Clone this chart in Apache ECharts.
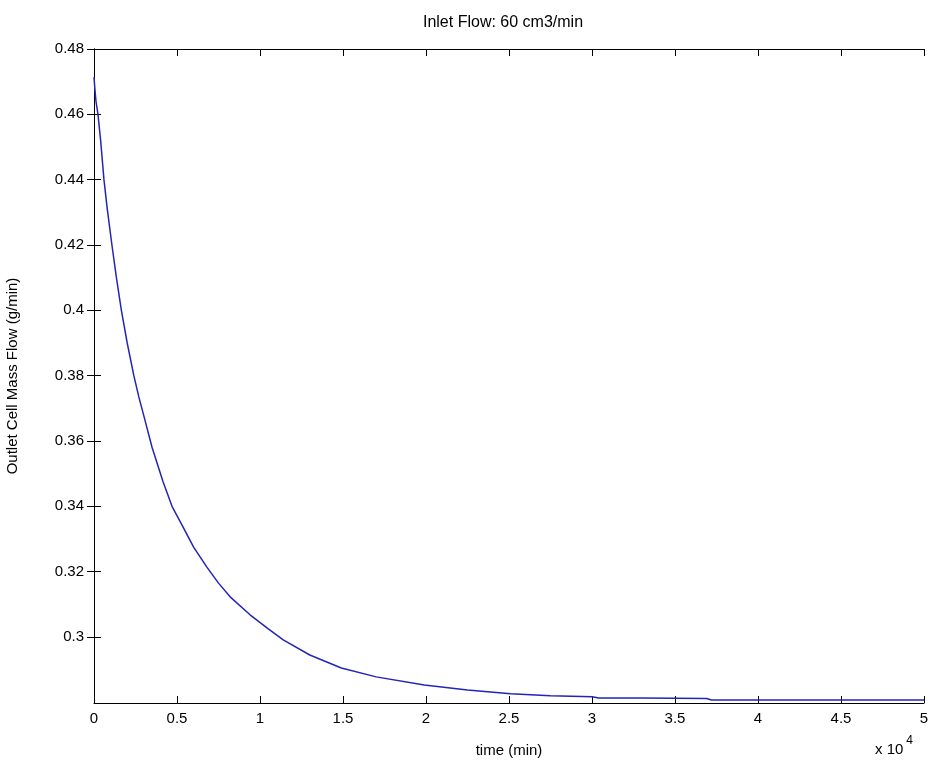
<!DOCTYPE html>
<html>
<head>
<meta charset="utf-8">
<script src="https://cdn.jsdelivr.net/npm/echarts@6/dist/echarts.min.js"></script>
<style>html,body{margin:0;padding:0;background:#fff;}#c{width:928px;height:760px;}</style>
</head>
<body>
<div id="c"></div>
<script>
// time in units of 10^4 min
const timeVals = [0, 0.005, 0.012, 0.024, 0.04, 0.06, 0.08, 0.108, 0.135, 0.165, 0.2, 0.24, 0.27, 0.307, 0.35, 0.416, 0.47, 0.536, 0.6, 0.68, 0.75, 0.82, 0.94, 1.05, 1.14, 1.3, 1.49, 1.7, 1.99, 2.25, 2.51, 2.75, 3.0, 3.04, 3.3, 3.69, 3.72, 4.2, 4.6, 5.0];
const flowVals = [0.4714, 0.468, 0.464, 0.46, 0.452, 0.44, 0.431, 0.42, 0.41, 0.40, 0.39, 0.38, 0.3735, 0.3664, 0.358, 0.3475, 0.340, 0.3337, 0.3275, 0.3214, 0.3165, 0.3123, 0.3068, 0.3025, 0.2991, 0.2945, 0.2905, 0.2878, 0.2853, 0.2838, 0.2826, 0.2820, 0.2817, 0.2813, 0.2813, 0.2812, 0.2807, 0.2807, 0.2807, 0.2807];
const yTicks = [0.30, 0.32, 0.34, 0.36, 0.38, 0.40, 0.42, 0.44, 0.46, 0.48];
const xTickInterval = 0.5;
const titleText = 'Inlet Flow: 60 cm3/min';
const xName = 'time (min)';
const yName = 'Outlet Cell Mass Flow (g/min)';

const chart = echarts.init(document.getElementById('c'), null, {renderer: 'canvas'});
const font = 'Liberation Sans';
const axisLine = {show: true, lineStyle: {color: '#000', width: 1}};
const tick = {show: true, inside: true, length: 7, lineStyle: {color: '#000', width: 1}};
const data = timeVals.map((t, i) => [t, flowVals[i]]);

chart.setOption({
  animation: false,
  backgroundColor: '#fff',
  grid: {left: 94, right: 4, top: 49, bottom: 57, containLabel: false, outerBoundsMode: 'none'},
  graphic: [
    {type: 'text', x: 503, y: 23, style: {text: titleText, font: '16px "Liberation Sans"', fill: '#000', align: 'center', verticalAlign: 'middle'}},
    {type: 'text', x: 875, y: 735, style: {
      text: '{a|x 10}{b|4}',
      rich: {
        a: {fontFamily: font, fontSize: 15, fill: '#000', verticalAlign: 'bottom'},
        b: {fontFamily: font, fontSize: 12, fill: '#000', verticalAlign: 'top', padding: [0, 0, 10, 3]}
      }
    }}
  ],
  xAxis: [
    {type: 'value', position: 'bottom', min: 0, max: 5, interval: xTickInterval,
     axisLine: axisLine, axisTick: tick, splitLine: {show: false},
     axisLabel: {color: '#000', fontFamily: font, fontSize: 15, margin: 8},
     name: xName, nameLocation: 'middle', nameGap: 40,
     nameTextStyle: {color: '#000', fontFamily: font, fontSize: 15}},
    {type: 'value', position: 'top', min: 0, max: 5, interval: xTickInterval,
     axisLine: axisLine, axisTick: tick, splitLine: {show: false}, axisLabel: {show: false}}
  ],
  yAxis: [
    {type: 'value', position: 'left', min: 0.2798, max: 0.48,
     axisLine: axisLine,
     axisTick: Object.assign({customValues: yTicks}, tick),
     splitLine: {show: false},
     axisLabel: {customValues: yTicks, color: '#000', fontFamily: font, fontSize: 15, margin: 10,
       formatter: v => String(+(+v).toFixed(2))},
     name: yName, nameLocation: 'middle', nameGap: 74,
     nameTextStyle: {color: '#000', fontFamily: font, fontSize: 15}},
    {type: 'value', position: 'right', min: 0.2798, max: 0.48,
     axisLine: axisLine,
     axisTick: Object.assign({customValues: yTicks}, tick),
     splitLine: {show: false}, axisLabel: {show: false}}
  ],
  series: [{
    type: 'line', xAxisIndex: 0, yAxisIndex: 0, data: data, showSymbol: false,
    smooth: false, lineStyle: {color: '#2424b8', width: 1.5}
  }]
});
</script>
</body>
</html>
